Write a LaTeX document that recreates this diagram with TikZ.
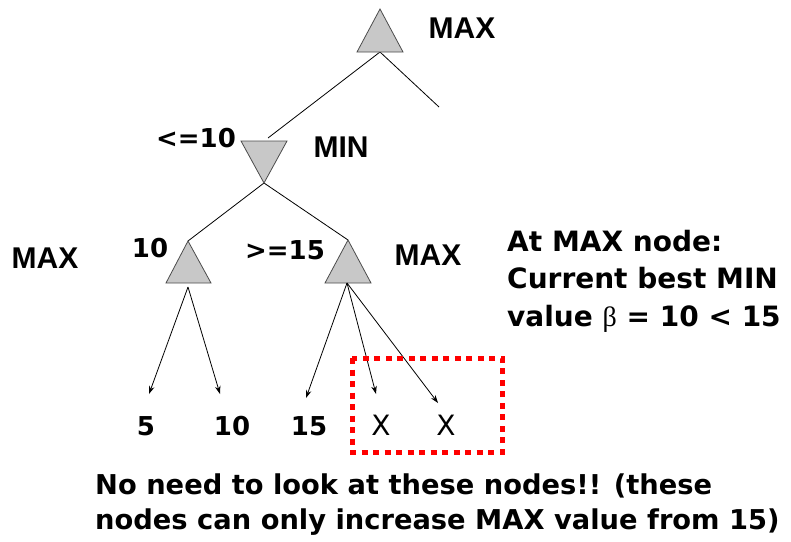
\documentclass[tikz,border=0pt]{standalone}
\usepackage{fontspec}
\setmainfont{DejaVu Sans}
\newfontfamily\arialf{Liberation Sans}
\newfontfamily\greekf{Liberation Serif}
\usetikzlibrary{arrows.meta}
\definecolor{trifill}{RGB}{200,200,200}
\definecolor{dotred}{RGB}{255,0,0}
\tikzset{
  tri/.style={fill=trifill,draw=black!70,line width=0.8pt,line join=miter},
  edge/.style={line width=0.8pt,draw=black},
  arr/.style={edge,-{Stealth[length=8pt,width=5.5pt]}},
  lbl/.style={font=\arialf\bfseries\fontsize{30}{30}\selectfont,inner sep=0pt},
  comic/.style={font=\bfseries\fontsize{26}{37.5}\selectfont,inner sep=0pt},
  para/.style={font=\bfseries\fontsize{28}{37.5}\selectfont,inner sep=0pt,align=left},
  xmark/.style={font=\mdseries\fontsize{28}{30}\selectfont,inner sep=0pt},
}
\begin{document}
\begin{tikzpicture}[x=1pt,y=-1pt]
\useasboundingbox (0,0) rectangle (791,541);
% triangle coordinates
\coordinate (r) at (380,9);
\coordinate (rL) at (357,52); \coordinate (rR) at (403,52); \coordinate (rb) at (380,52);
\coordinate (m) at (264,183);
\coordinate (mL) at (241,141); \coordinate (mR) at (287,141); \coordinate (mt) at (268,138);
\coordinate (a) at (188,241);
\coordinate (aL) at (166,283); \coordinate (aR) at (211,283); \coordinate (ab) at (188,287);
\coordinate (b) at (348,240);
\coordinate (bL) at (325,283); \coordinate (bR) at (371,283); \coordinate (bb) at (347,283);
\coordinate (rend) at (439,107);
% edges
\draw[edge] (rb) -- (mt);
\draw[edge] (rb) -- (rend);
\draw[edge] (m) -- (a);
\draw[edge] (m) -- (b);
% triangles
\draw[tri] (r) -- (rL) -- (rR) -- cycle;
\draw[tri] (m) -- (mL) -- (mR) -- cycle;
\draw[tri] (a) -- (aL) -- (aR) -- cycle;
\draw[tri] (b) -- (bL) -- (bR) -- cycle;
% leaves
\node[comic] (l1) at (146,426) {5};
\node[comic] (l2) at (232,426) {10};
\node[comic] (l3) at (309,426) {15};
\node[xmark] (l4) at (381,425) {X};
\node[xmark] (l5) at (446,425) {X};
\coordinate (t1) at (149,394);
\coordinate (t2) at (220,394);
\coordinate (t3) at (306,398);
\coordinate (t4) at (376,394);
\coordinate (t5) at (438,403);
\draw[arr] (ab) -- (t1);
\draw[arr] (ab) -- (t2);
\draw[arr] (bb) -- (t3);
\draw[arr] (bb) -- (t4);
\draw[arr] (bb) -- (t5);
% dotted box
\draw[dotred,line width=5pt,dash pattern=on 6pt off 5.5pt] (352,358) rectangle (502,452);
% labels
\node[lbl] (tmax) at (462,28) {MAX};
\node[lbl] (tmin) at (341,147) {MIN};
\node[lbl] (lmax) at (45,258) {MAX};
\node[lbl] (rmax) at (428,255) {MAX};
\node[comic] (le10) at (196,138) {<=10};
\node[comic] (v10) at (150,248) {10};
\node[comic] (ge15) at (285,250) {>=15};
\node[para,anchor=west] (info) at (507,281) {At MAX node:\\Current best MIN\\value {\greekf\mdseries β} = 10 < 15};
\node[para,anchor=north west,font=\bfseries\fontsize{27.3}{35}\selectfont] (note) at (95,474) {No need to look at these nodes!! (these\\nodes can only increase MAX value from 15)};
\end{tikzpicture}
\end{document}
